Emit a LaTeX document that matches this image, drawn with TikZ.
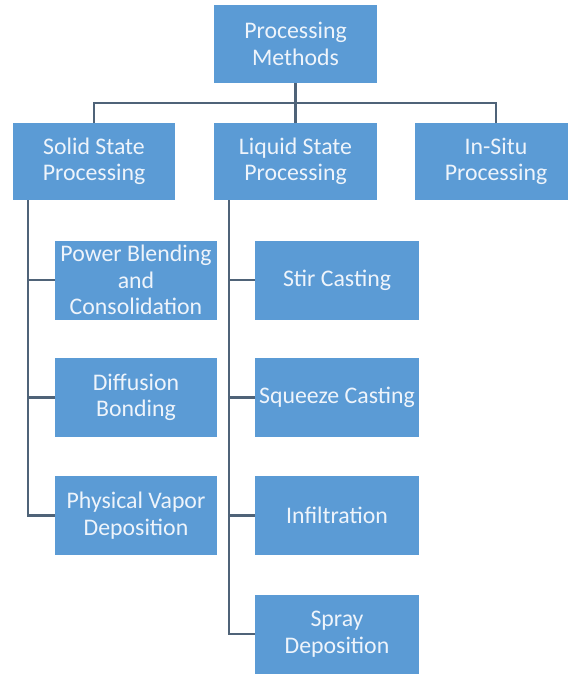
\documentclass[tikz,border=0pt]{standalone}
\usepackage{fontspec}
\setmainfont{Carlito}
\definecolor{boxblue}{HTML}{5B9BD5}
\definecolor{boxtext}{HTML}{EEF4FB}
\definecolor{linecol}{HTML}{4F6378}
\begin{document}
\begin{tikzpicture}[x=1pt,y=-1pt,
  box/.style={rectangle, fill=boxblue, text=boxtext, align=center, inner sep=0pt,
    minimum width=162pt, minimum height=79pt, font=\fontsize{23.8}{26.5}\selectfont},
  conn/.style={draw=linecol, line width=2.4pt}]
\useasboundingbox (0,0) rectangle (568,689);
\clip (0,0) rectangle (568,689);
\fill[white] (0,0) rectangle (568,689);
% top level
\node[box, minimum width=163pt, minimum height=78pt] (top) at (295.5,44) {Processing\\Methods};
% second level
\node[box, minimum height=77pt] (solid) at (94,161.5) {Solid State\\Processing};
\node[box, minimum width=163pt, minimum height=77pt] (liquid) at (295.5,161.5) {Liquid State\\Processing};
\node[box, minimum height=77pt] (insitu) at (496,161.5) {In-Situ\\Processing};
% solid state children
\node[box] (power) at (136,280) {Power Blending\\and\\Consolidation};
\node[box] (diff) at (136,397.5) {Diffusion\\Bonding};
\node[box] (phys) at (136,515.5) {Physical Vapor\\Deposition};
% liquid state children
\node[box, minimum width=164pt] (stir) at (337,280) {Stir Casting};
\node[box, minimum width=164pt] (squeeze) at (337,397.5) {Squeeze Casting};
\node[box, minimum width=164pt] (infil) at (337,515.5) {Infiltration};
\node[box, minimum width=164pt] (spray) at (337,634) {Spray\\Deposition};
% connectors top level
\draw[conn] (top.south) -- (liquid.north);
\draw[conn] (solid.north) -- ++(0,-20) -| (insitu.north);
% solid state branch
\coordinate (ls) at (28,200);
\draw[conn] (ls) |- (phys.west);
\draw[conn] (power.west) -- (power.west -| ls);
\draw[conn] (diff.west) -- (diff.west -| ls);
% liquid state branch
\coordinate (rs) at (229,200);
\draw[conn] (rs) |- (spray.west);
\draw[conn] (stir.west) -- (stir.west -| rs);
\draw[conn] (squeeze.west) -- (squeeze.west -| rs);
\draw[conn] (infil.west) -- (infil.west -| rs);
\end{tikzpicture}
\end{document}
